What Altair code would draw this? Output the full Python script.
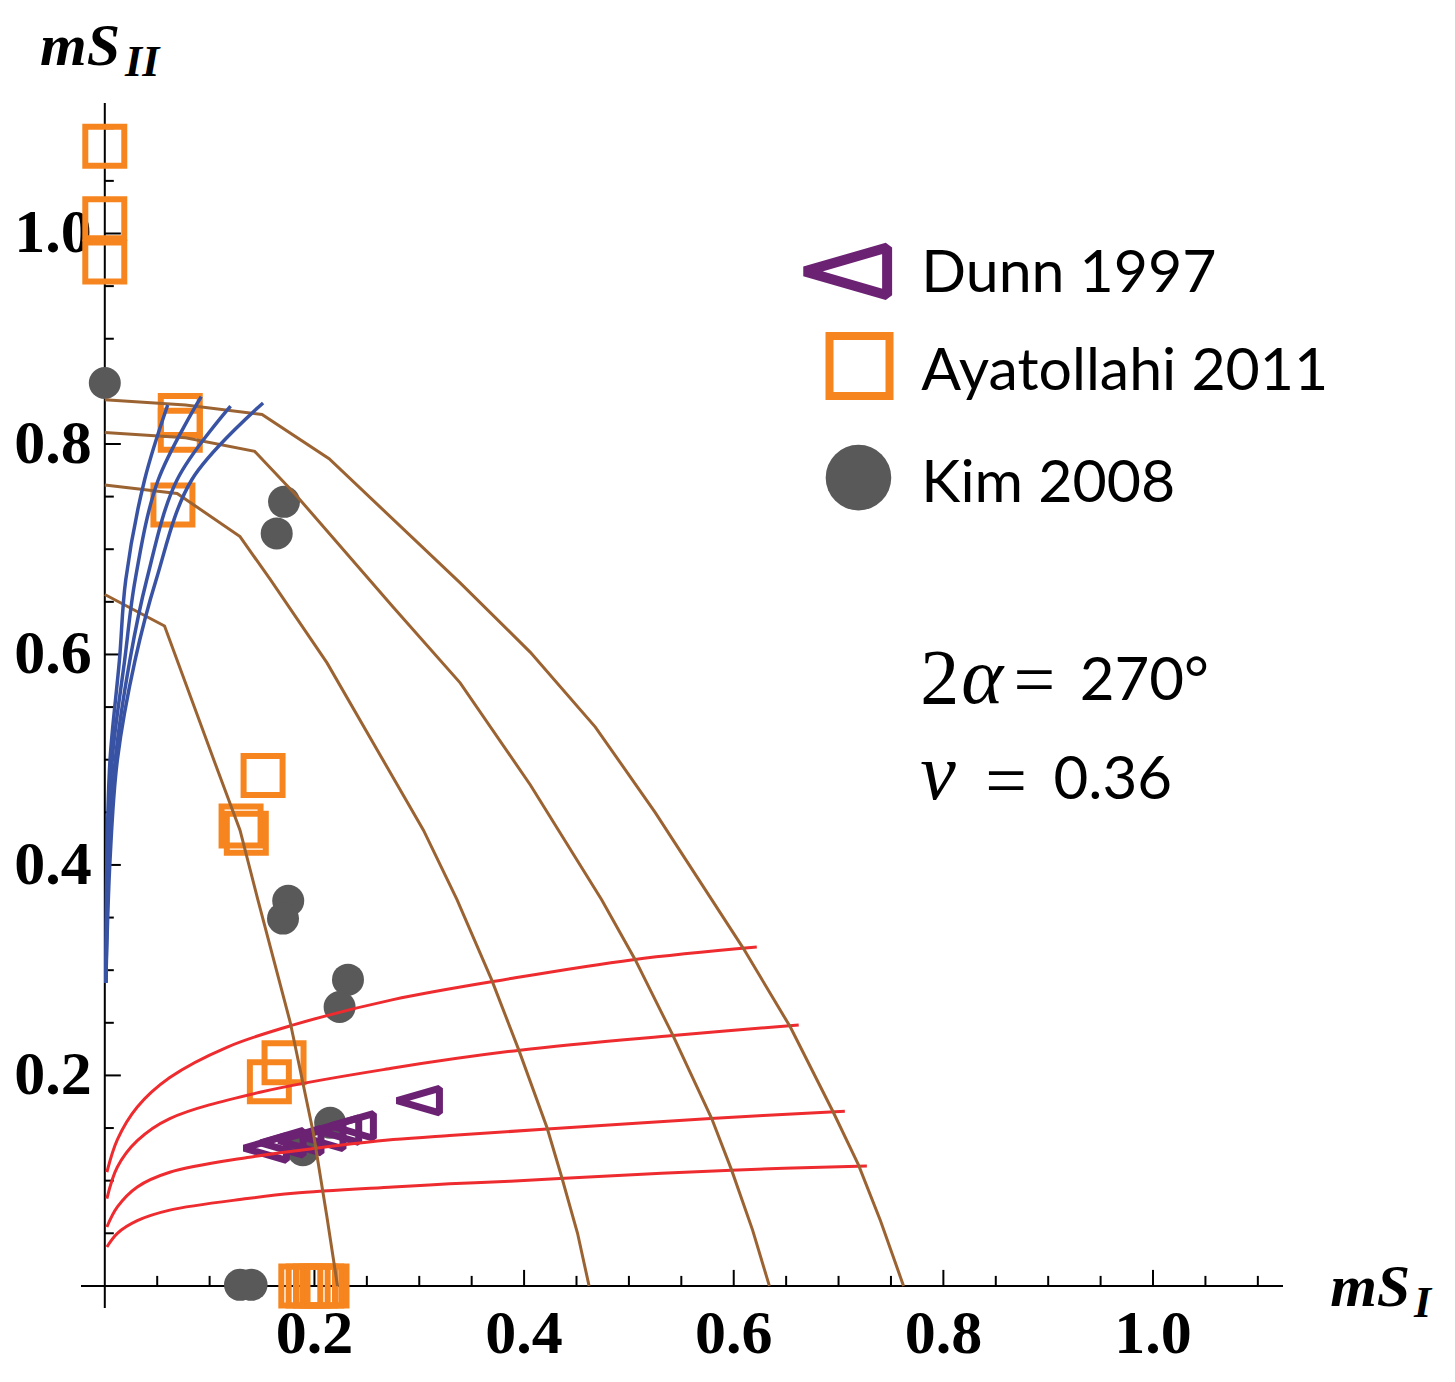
import altair as alt
import pandas as pd

# ---- plot range (axes cross at the origin) ----
XMIN, XMAX = -0.0227, 1.124
YMIN, YMAX = -0.021, 1.124

# ---- axis ticks and labels ----
MINOR_TICKS = [0.05, 0.1, 0.15, 0.25, 0.3, 0.35, 0.45, 0.5, 0.55, 0.65, 0.7, 0.75,
               0.85, 0.9, 0.95, 1.05, 1.1]
MAJOR_TICKS = [0.2, 0.4, 0.6, 0.8, 1.0]
TICK_LABELS = ["0.2", "0.4", "0.6", "0.8", "1.0"]

# ---- experimental data ----
dunn_x = [0.153, 0.169, 0.186, 0.207, 0.222, 0.236, 0.299]
dunn_y = [0.131, 0.136, 0.138, 0.142, 0.148, 0.152, 0.176]

ayat_x = [0.0, 0.0, 0.0, 0.072, 0.072, 0.065, 0.151, 0.130, 0.135, 0.171, 0.157,
          0.187, 0.194, 0.201, 0.207, 0.212]
ayat_y = [1.083, 1.014, 0.973, 0.827, 0.813, 0.742, 0.485, 0.437, 0.430, 0.212, 0.194,
          0.0, 0.0, 0.0, 0.0, 0.0]

kim_x = [0.0, 0.171, 0.164, 0.175, 0.170, 0.232, 0.224, 0.215, 0.189, 0.129, 0.140]
kim_y = [0.858, 0.745, 0.715, 0.366, 0.349, 0.291, 0.265, 0.155, 0.129, 0.001, 0.001]

# ---- model curves ----
brown_curves = [
    ([0.0, 0.057, 0.105, 0.129, 0.146, 0.177, 0.199, 0.212, 0.222],
     [0.657, 0.627, 0.497, 0.433, 0.367, 0.250, 0.145, 0.065, 0.0]),
    ([0.0, 0.069, 0.129, 0.158, 0.212, 0.304, 0.336, 0.369, 0.395, 0.422, 0.436, 0.451, 0.462],
     [0.761, 0.753, 0.712, 0.671, 0.592, 0.433, 0.367, 0.291, 0.224, 0.150, 0.103, 0.050, 0.0]),
    ([0.0, 0.077, 0.143, 0.181, 0.275, 0.339, 0.406, 0.474, 0.506, 0.542, 0.579, 0.598, 0.618, 0.634],
     [0.811, 0.806, 0.793, 0.753, 0.645, 0.573, 0.476, 0.367, 0.310, 0.238, 0.159, 0.110, 0.053, 0.0]),
    ([0.0, 0.077, 0.150, 0.214, 0.339, 0.406, 0.468, 0.525, 0.579, 0.609, 0.654, 0.695, 0.719, 0.740, 0.762],
     [0.842, 0.837, 0.828, 0.786, 0.668, 0.602, 0.531, 0.450, 0.367, 0.321, 0.246, 0.165, 0.115, 0.062, 0.0]),
]

blue_curves = [
    ([0.001, 0.002, 0.005, 0.014, 0.020, 0.038, 0.060],
     [0.288, 0.405, 0.500, 0.595, 0.671, 0.766, 0.837]),
    ([0.001, 0.003, 0.007, 0.019, 0.029, 0.051, 0.092],
     [0.288, 0.405, 0.500, 0.595, 0.671, 0.766, 0.845]),
    ([0.001, 0.004, 0.010, 0.024, 0.040, 0.069, 0.120],
     [0.288, 0.405, 0.500, 0.595, 0.671, 0.766, 0.836]),
    ([0.001, 0.005, 0.012, 0.029, 0.049, 0.083, 0.151],
     [0.288, 0.405, 0.500, 0.595, 0.671, 0.766, 0.839]),
]

red_curves = [
    ([0.002, 0.012, 0.031, 0.062, 0.117, 0.180, 0.275, 0.387, 0.504, 0.622],
     [0.108, 0.139, 0.170, 0.198, 0.227, 0.248, 0.272, 0.292, 0.310, 0.322]),
    ([0.002, 0.012, 0.031, 0.062, 0.148, 0.275, 0.396, 0.542, 0.662],
     [0.083, 0.113, 0.138, 0.159, 0.184, 0.207, 0.224, 0.238, 0.248]),
    ([0.002, 0.012, 0.031, 0.062, 0.136, 0.203, 0.275, 0.329, 0.422, 0.578, 0.706],
     [0.056, 0.075, 0.094, 0.108, 0.122, 0.131, 0.139, 0.143, 0.149, 0.159, 0.166]),
    ([0.002, 0.012, 0.031, 0.062, 0.136, 0.180, 0.275, 0.329, 0.387, 0.434, 0.598, 0.727],
     [0.037, 0.050, 0.062, 0.072, 0.083, 0.088, 0.094, 0.097, 0.0995, 0.102, 0.110, 0.114]),
]

# ---- colours and styles ----
BROWN = "#9C6332"
BLUE = "#3953A4"
RED = "#EE2B2F"
ORANGE = "#F6851F"
PURPLE = "#6C2273"
GRAY = "#595959"
TRIANGLE = "M -1 0 L 1 -0.58 L 1 0.58 Z"
SERIF = "Liberation Serif"
SANS = "Lato"

MAJOR_LEN_X, MINOR_LEN_X = 0.0152, 0.0095   # tick lengths on the x axis (data units of y)
MAJOR_LEN_Y, MINOR_LEN_Y = 0.0153, 0.0086   # tick lengths on the y axis (data units of x)

xs = alt.Scale(domain=[XMIN, XMAX], nice=False, zero=False)
ys = alt.Scale(domain=[YMIN, YMAX], nice=False, zero=False)


def X(f="x"):
    return alt.X(f"{f}:Q", scale=xs, axis=None)


def Y(f="y"):
    return alt.Y(f"{f}:Q", scale=ys, axis=None)


def curves_frame(curves):
    rows = []
    for k, (cx, cy) in enumerate(curves):
        for i, (a, b) in enumerate(zip(cx, cy)):
            rows.append({"curve": k, "i": i, "x": a, "y": b})
    return pd.DataFrame(rows)


def curve_layer(curves, color, interp, width):
    return alt.Chart(curves_frame(curves)).mark_line(
        color=color, strokeWidth=width, interpolate=interp
    ).encode(x=X(), y=Y(), detail="curve:N", order="i:Q")


def text_layer(rows, **style):
    return alt.Chart(pd.DataFrame(rows)).mark_text(**style).encode(
        x=X(), y=Y(), text="t:N")


# ---- axes ----
axis_lines = alt.Chart(pd.DataFrame({
    "x": [XMIN, 0.0], "x2": [XMAX, 0.0], "y": [0.0, YMIN], "y2": [0.0, YMAX]
})).mark_rule(color="black", strokeWidth=2).encode(
    x=X(), x2=alt.X2("x2:Q"), y=Y(), y2=alt.Y2("y2:Q"))

x_ticks = pd.DataFrame(
    [{"x": v, "y": 0.0, "y2": MINOR_LEN_X} for v in MINOR_TICKS]
    + [{"x": v, "y": 0.0, "y2": MAJOR_LEN_X} for v in MAJOR_TICKS])
y_ticks = pd.DataFrame(
    [{"y": v, "x": 0.0, "x2": MINOR_LEN_Y} for v in MINOR_TICKS]
    + [{"y": v, "x": 0.0, "x2": MAJOR_LEN_Y} for v in MAJOR_TICKS])

x_tick_layer = alt.Chart(x_ticks).mark_rule(color="black", strokeWidth=2).encode(
    x=X(), y=Y(), y2=alt.Y2("y2:Q"))
y_tick_layer = alt.Chart(y_ticks).mark_rule(color="black", strokeWidth=2).encode(
    y=Y(), x=X(), x2=alt.X2("x2:Q"))

label_style = dict(font=SERIF, fontWeight="bold", fontSize=62, color="black")
x_labels = alt.Chart(pd.DataFrame({"x": MAJOR_TICKS, "y": [0.0] * 5, "t": TICK_LABELS})).mark_text(
    align="center", baseline="middle", dy=48, **label_style).encode(x=X(), y=Y(), text="t:N")
y_labels = alt.Chart(pd.DataFrame({"x": [0.0] * 5, "y": MAJOR_TICKS, "t": TICK_LABELS})).mark_text(
    align="right", baseline="middle", dx=-13, **label_style).encode(x=X(), y=Y(), text="t:N")

title_style = dict(font=SERIF, fontWeight="bold", fontStyle="italic", color="black",
                   align="left", baseline="alphabetic")
titles_big = text_layer([{"x": -0.0618, "y": 1.1604, "t": "mS"},
                         {"x": 1.169, "y": -0.0187, "t": "mS"}], fontSize=60, **title_style)
titles_sub = text_layer([{"x": 0.0193, "y": 1.150, "t": "II"},
                         {"x": 1.249, "y": -0.030, "t": "I"}], fontSize=44, **title_style)

# ---- data markers ----
ayat = alt.Chart(pd.DataFrame({"x": ayat_x, "y": ayat_y})).mark_point(
    shape="square", filled=False, size=1520, strokeWidth=6, color=ORANGE, opacity=1
).encode(x=X(), y=Y())
kim = alt.Chart(pd.DataFrame({"x": kim_x, "y": kim_y})).mark_point(
    shape="circle", filled=True, size=1024, color=GRAY, opacity=1
).encode(x=X(), y=Y())
dunn = alt.Chart(pd.DataFrame({"x": dunn_x, "y": dunn_y})).mark_point(
    shape=TRIANGLE, filled=False, size=1800, strokeWidth=7, color=PURPLE, opacity=1,
    strokeJoin="bevel"
).encode(x=X(), y=Y())

# ---- legend ----
leg_tri = alt.Chart(pd.DataFrame({"x": [0.707], "y": [0.964]})).mark_point(
    shape=TRIANGLE, filled=False, size=6800, strokeWidth=10, color=PURPLE, opacity=1,
    strokeJoin="bevel"
).encode(x=X(), y=Y())
leg_sq = alt.Chart(pd.DataFrame({"x": [0.720], "y": [0.874]})).mark_point(
    shape="square", filled=False, size=3600, strokeWidth=8, color=ORANGE, opacity=1
).encode(x=X(), y=Y())
leg_ci = alt.Chart(pd.DataFrame({"x": [0.719], "y": [0.768]})).mark_point(
    shape="circle", filled=True, size=4300, color=GRAY, opacity=1
).encode(x=X(), y=Y())
leg_text = text_layer([{"x": 0.779, "y": 0.944, "t": "Dunn 1997"},
                       {"x": 0.779, "y": 0.851, "t": "Ayatollahi 2011"},
                       {"x": 0.779, "y": 0.745, "t": "Kim 2008"}],
                      font=SANS, fontSize=59, color="black", align="left", baseline="alphabetic")

# ---- parameter annotation ----
ann_two = text_layer([{"x": 0.778, "y": 0.554, "t": "2"}],
                     font=SERIF, fontSize=78, color="black", align="left", baseline="alphabetic")
ann_greek = text_layer([{"x": 0.817, "y": 0.554, "t": "α"},
                        {"x": 0.778, "y": 0.463, "t": "ν"}],
                       font=SERIF, fontStyle="italic", fontSize=80, color="black",
                       align="left", baseline="alphabetic")
ann_eq = text_layer([{"x": 0.867, "y": 0.553, "t": "="},
                     {"x": 0.840, "y": 0.457, "t": "="}],
                    font=SERIF, fontSize=74, color="black", align="left", baseline="alphabetic")
ann_vals = text_layer([{"x": 0.930, "y": 0.557, "t": "270°"},
                       {"x": 0.905, "y": 0.463, "t": "0.36"}],
                      font=SANS, fontSize=60, color="black", align="left", baseline="alphabetic")

chart = alt.layer(
    axis_lines, x_tick_layer, y_tick_layer, x_labels, y_labels, titles_big, titles_sub,
    ayat, kim, dunn,
    curve_layer(red_curves, RED, "catmull-rom", 3),
    curve_layer(brown_curves, BROWN, "linear", 3),
    curve_layer(blue_curves, BLUE, "catmull-rom", 3.5),
    leg_tri, leg_sq, leg_ci, leg_text,
    ann_two, ann_greek, ann_eq, ann_vals,
).properties(
    width=1202, height=1205,
    padding={"left": 81, "top": 103, "right": 172, "bottom": 74},
    autosize=alt.AutoSizeParams(type="none"),
    background="white",
).configure_view(stroke=None)

chart.save("out.html", embed_options={"renderer": "svg", "actions": False})
